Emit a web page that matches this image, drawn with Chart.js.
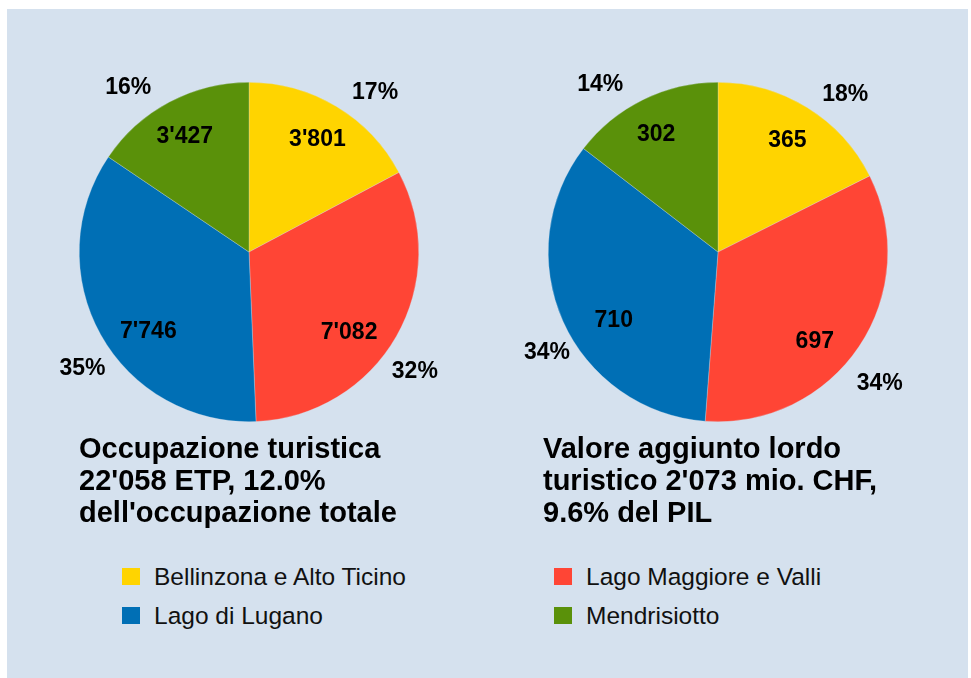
<!DOCTYPE html>
<html>
<head>
<meta charset="utf-8">
<script src="https://cdn.jsdelivr.net/npm/chart.js@4"></script>
<style>
  body { margin: 0; background: #fff; font-family: "Liberation Sans", Arial, Helvetica, sans-serif; }
  #panel { position: absolute; left: 7px; top: 9px; width: 961px; height: 669px; background: #d5e1ee; }
  canvas { position: absolute; }
  .title { position: absolute; top: 432px; font-size: 29px; line-height: 32px; font-weight: bold; color: #000; }
  .legend { position: absolute; font-size: 24.5px; color: #111; }
  .legend div { position: relative; height: 39px; line-height: 39px; padding-left: 32px; white-space: nowrap; }
  .legend span { position: absolute; left: 0; top: 11px; width: 18px; height: 17px; }
</style>
</head>
<body>
<div id="panel"></div>
<canvas id="pieOcc" width="460" height="440" style="left:19px; top:32px"></canvas>
<canvas id="pieVal" width="460" height="440" style="left:488px; top:32px"></canvas>

<div class="title" style="left:79px">Occupazione turistica<br>22'058 ETP, 12.0%<br>dell'occupazione totale</div>
<div class="title" style="left:543px">Valore aggiunto lordo<br>turistico 2'073 mio. CHF,<br>9.6% del PIL</div>

<div class="legend" id="legLeft" style="left:122px; top:557px"></div>
<div class="legend" id="legRight" style="left:554px; top:557px"></div>

<script>
  // regions, clockwise from 12 o'clock
  const regions = ['Bellinzona e Alto Ticino', 'Lago Maggiore e Valli', 'Lago di Lugano', 'Mendrisiotto'];
  const regionColors = ['#ffd400', '#ff4535', '#006fb5', '#5a910a'];

  // employment (ETP) and value added (mio. CHF)
  const occValues = [3801, 7082, 7746, 3427];
  const occPercents = [17, 32, 35, 16];
  const valValues = [365, 697, 710, 302];
  const valPercents = [18, 34, 34, 14];

  const LABEL_FONT = 'bold 23px "Liberation Sans", Arial, sans-serif';

  function fmt(n) {
    return String(n).replace(/\B(?=(\d{3})+(?!\d))/g, "'");
  }

  // label spot from the slice's mid direction; everything in units of the radius
  // kx: horizontal reach, side: extra push away from the vertical axis,
  // ky: vertical reach, down: constant shift downwards
  function spot(p, mid, kx, side, ky, down) {
    const dx = Math.cos(mid), dy = Math.sin(mid);
    const r = p.outerRadius;
    return [p.x + r * (dx * kx + Math.sign(dx) * side), p.y + r * (dy * ky + down)];
  }

  const sliceLabels = {
    id: 'sliceLabels',
    afterDatasetsDraw(chart, args, opts) {
      const ctx = chart.ctx;
      const meta = chart.getDatasetMeta(0);
      ctx.save();
      ctx.font = LABEL_FONT;
      ctx.fillStyle = '#000';
      ctx.textAlign = 'center';
      ctx.textBaseline = 'middle';
      meta.data.forEach((arc, i) => {
        const p = arc.getProps(['x', 'y', 'startAngle', 'endAngle', 'outerRadius'], true);
        const mid = (p.startAngle + p.endAngle) / 2;
        const v = spot(p, mid, 0.53, 0.13, 0.84, 0.06);
        ctx.fillText(fmt(chart.data.datasets[0].data[i]), v[0], v[1]);
        const q = spot(p, mid, 0.665, 0.4, 1.21, 0.1);
        ctx.fillText(opts.percents[i] + '%', q[0], q[1]);
      });
      ctx.restore();
    }
  };

  function makePie(id, values, percents) {
    return new Chart(document.getElementById(id), {
      type: 'pie',
      data: {
        labels: regions,
        datasets: [{
          data: values,
          backgroundColor: regionColors,
          borderColor: 'rgba(213,225,238,0.6)',
          borderWidth: 0.5
        }]
      },
      options: {
        responsive: false,
        animation: false,
        devicePixelRatio: 1,
        layout: { padding: { left: 60, right: 60, top: 50, bottom: 50 } },
        plugins: {
          legend: { display: false },
          tooltip: { enabled: false },
          sliceLabels: { percents: percents }
        }
      },
      plugins: [sliceLabels]
    });
  }

  makePie('pieOcc', occValues, occPercents);
  makePie('pieVal', valValues, valPercents);

  // legend: left column gets items 0 and 2, right column 1 and 3
  function fillLegend(elId, idx) {
    const el = document.getElementById(elId);
    idx.forEach(i => {
      const row = document.createElement('div');
      row.innerHTML = '<span style="background:' + regionColors[i] + '"></span>' + regions[i];
      el.appendChild(row);
    });
  }
  fillLegend('legLeft', [0, 2]);
  fillLegend('legRight', [1, 3]);
</script>
</body>
</html>
